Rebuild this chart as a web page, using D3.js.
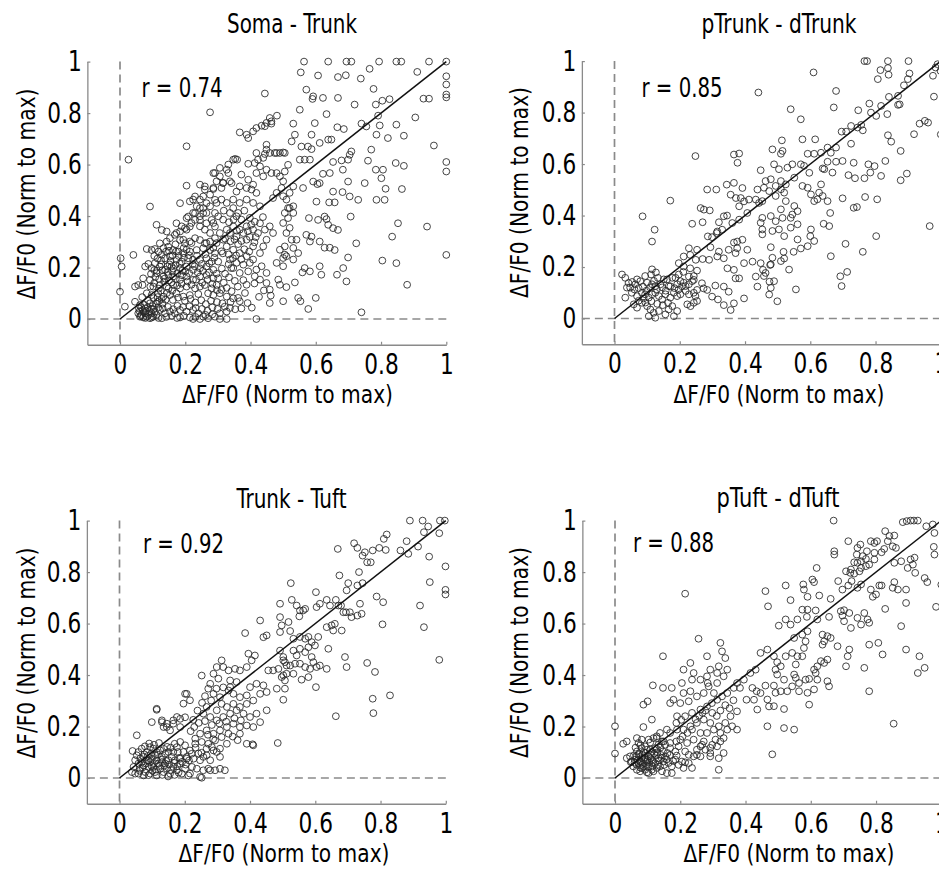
<!DOCTYPE html>
<html><head><meta charset="utf-8">
<script src="https://cdn.jsdelivr.net/npm/d3@7"></script>
<style>
html,body{margin:0;padding:0;background:#fff;overflow:hidden}
svg{display:block}
text{font-family:"Liberation Sans Narrow","Arial Narrow","DejaVu Sans Condensed",sans-serif;fill:#000}
</style></head><body>
<svg id="chart" width="939" height="874"></svg>
<script>
const panelTitles = ["Soma - Trunk", "pTrunk - dTrunk", "Trunk - Tuft", "pTuft - dTuft"];
const rValues = [0.74, 0.85, 0.92, 0.88];
const axisTicks = [0, 0.2, 0.4, 0.6, 0.8, 1];
const axisLabel = "ΔF/F0 (Norm to max)";

// [x, y] pairs, normalised ΔF/F0 of the two compartments
const somaTrunk = [
[.564,1],[.638,1],[.694,1],[.709,1],[.794,1],[.847,1],[.862,1],[.947,1],[1,1],
[.554,.958],[.607,.946],[.668,.940],[.692,.947],[.738,.934],[.765,.972],[.911,.960],[1,.943],
[1,.911],[.571,.891],[.777,.894],[.592,.865],[.590,.855],[.622,.859],[.668,.859],[1,.872],[1,.861],[.930,.856],[.947,.856],[.826,.854],[.804,.848],[.719,.833],[.784,.833],
[.551,.813],[.633,.796],[.481,.790],[.464,.759],[.597,.761],[.531,.759],[.666,.745],[.686,.738],[.740,.759],[.755,.748],[.791,.790],[.796,.752],[.847,.755],[.905,.783],
[.536,.716],[.587,.716],[.786,.716],[.821,.703],[.870,.712],[.638,.697],[.648,.697],[.556,.670],[.576,.670],[.526,.690],[.612,.684],[.587,.660],[.709,.651],[.704,.638],[.770,.658],[.962,.674],[.480,.645],[.500,.647],
[.653,.610],[.679,.616],[.699,.619],[.760,.615],[.845,.606],[.870,.595],[1,.610],[1,.573],[.784,.580],[.806,.580],[.551,.619],[.566,.619],[.582,.619],[.515,.599],[.643,.567],[.683,.580],[.622,.564],[.505,.573],
[.699,.534],[.750,.528],[.801,.547],[.814,.506],[.864,.505],[.653,.495],[.682,.493],[.704,.476],[.730,.463],[.786,.463],[.811,.463],[.602,.456],[.641,.453],[.658,.453],[.561,.509],[.531,.515],[.612,.528],[.592,.534],[.605,.524],
[.515,.431],[.579,.392],[.607,.385],[.627,.398],[.633,.388],[.638,.366],[.653,.353],[.668,.346],[.707,.398],[.852,.372],[.941,.359],[.834,.320],[.724,.294],[.699,.239],[.804,.227],[.847,.217],[1,.249],[.571,.327],[.587,.320],[.612,.301],[.627,.277],[.643,.277],[.658,.268],[.582,.301],
[.566,.198],[.559,.181],[.582,.185],[.612,.205],[.617,.172],[.665,.172],[.694,.146],[.684,.198],[.510,.124],[.536,.142],[.546,.082],[.553,.069],[.600,.082],[.577,.039],[.740,.026],[.880,.133],
[.444,.876],[.276,.803],[.204,.671],[.026,.619],
[.459,.781],[.464,.768],[.449,.762],[.444,.749],[.434,.751],[.418,.742],[.408,.729],[.388,.716],[.367,.725],[.393,.703],
[.449,.677],[.449,.658],[.444,.641],[.459,.645],[.474,.645],[.490,.645],[.505,.645],
[.418,.645],[.439,.626],[.423,.619],[.413,.606],[.393,.603],[.429,.593],[.449,.580],[.464,.567],[.439,.554],[.418,.567],
[.347,.619],[.359,.619],[.353,.622],
[.327,.580],[.332,.567],[.337,.535],[.306,.554],[.316,.529],[.291,.567],[.286,.509],[.311,.509],
[.372,.561],[.393,.541],[.408,.522],[.388,.509],[.367,.515],[.403,.503],[.418,.490],
[.480,.567],[.500,.535],[.490,.554],[.495,.509],[.480,.490],[.500,.477],[.469,.470],[.510,.464],[.520,.490],
[.531,.438],[.520,.431],[.505,.412],[.515,.392],[.531,.412],[.520,.354],[.500,.373],[.510,.334],[.526,.308],[.505,.282],[.490,.269],[.500,.237],[.480,.218],[.500,.205],[.505,.250],[.510,.244],[.531,.231],[.541,.308],[.546,.256],[.531,.276],
[.347,.464],[.367,.451],[.388,.464],[.408,.451],[.429,.438],[.347,.431],[.327,.451],[.311,.464],[.296,.451],[.337,.412],[.357,.399],[.372,.386],[.388,.360],[.408,.347],[.423,.334],[.444,.347],[.459,.360],[.469,.334],[.449,.308],[.439,.282],[.429,.256],[.408,.282],[.388,.308],[.378,.334],[.367,.347],[.347,.360],[.337,.334],[.357,.321],[.327,.347],[.316,.386],[.301,.399],[.291,.412],[.286,.373],[.306,.334],[.316,.308],[.296,.295],[.327,.282],[.347,.269],[.367,.256],[.388,.244],[.408,.231],[.434,.205],[.418,.192],[.398,.218],[.378,.211],[.357,.218],[.337,.231],[.347,.198],[.367,.179],[.393,.185],[.413,.166],[.449,.179],[.449,.140],[.429,.153],[.459,.114],
[.459,.062],[.500,.069],[.418,0],[.388,.133],[.383,.101],[.362,.082],[.367,.069],[.337,.043],[.327,0],[.306,0],[.245,0],[.224,0],[.214,.006],[.184,.006],[.485,.153],[.490,.133],
[.002,.236],[.005,.204],[0,.106],[.041,.249],[.092,.437],[.015,.048],[.046,.126],[.069,.132],[.056,.132],
[.082,.272],[.097,.268],[.107,.272],
[.112,.366],[.128,.346],[.143,.340],[.173,.372],[.184,.340],[.199,.353],[.214,.359],[.230,.385],[.245,.385],[.230,.411],[.265,.372],[.281,.385],[.291,.359],[.209,.398],[.153,.314],[.168,.327],[.143,.301],[.122,.294],
[.184,.307],[.199,.294],[.214,.301],[.230,.314],[.245,.307],[.260,.294],[.276,.301],[.291,.314],
[.133,.275],[.148,.281],[.163,.268],[.179,.262],[.194,.256],[.214,.262],[.235,.268],[.255,.275],[.276,.268],[.291,.256],
[.128,.249],[.138,.236],[.153,.243],[.173,.230],[.189,.223],[.209,.236],[.224,.230],[.245,.230],[.265,.236],[.281,.223],
[.077,.204],[.087,.214],[.107,.217],
[.122,.204],[.138,.191],[.158,.204],[.184,.197],[.204,.204],[.224,.191],[.245,.197],[.265,.204],[.286,.191],
[.112,.178],[.133,.165],[.148,.171],[.163,.165],[.184,.152],[.204,.165],[.224,.152],[.245,.165],[.265,.171],[.286,.158],
[.071,.158],[.092,.152],
[.102,.126],[.122,.132],[.143,.126],[.163,.132],[.184,.119],[.204,.126],[.230,.119],[.245,.126],[.260,.132],[.281,.119],[.296,.132],
[.082,.100],[.097,.093],[.117,.100],[.133,.087],[.153,.093],[.173,.100],[.194,.087],[.214,.093],[.240,.097],[.270,.100],[.286,.093],[.306,.100],[.327,.087],[.347,.080],
[.046,.067],[.061,.054],[.077,.041],[.092,.061],
[.056,.022],[.066,.016],[.077,.022],[.087,.016],[.097,.022],[.061,.009],[.071,.006],[.082,.009],[.092,.003],[.102,.009],[.112,.016],[.107,.029],[.122,.035],[.138,.022],[.153,.029],[.168,.022],
[.128,.003],[.184,.035],[.204,.029],[.224,.035],[.240,.022],[.255,.009],[.270,.003],[.291,.009],[.306,.022],[.327,.029],
[.204,.518],[.260,.515],[.286,.505],[.316,.528],[.342,.528],[.357,.495],
[.184,.450],[.214,.457],[.230,.476],[.255,.476],[.265,.450],[.291,.463],[.245,.431],[.255,.411],
[.245,.522],[.260,.503],[.276,.483],[.245,.464],[.224,.464],[.235,.438],[.255,.431],[.276,.438],[.265,.412],[.245,.399],[.224,.412],[.204,.392],[.219,.373],[.245,.360],[.260,.347],[.276,.334],[.204,.347],[.189,.360],[.173,.334],[.194,.308],[.219,.295],[.265,.295],[.286,.276],[.204,.269],
[.286,.567],[.306,.587],[.296,.535],[.332,.600],
[.060,.030],[.070,.035],[.080,.030],[.065,.045],[.085,.045],[.095,.040],[.075,.055],[.100,.050],[.110,.060],[.120,.070],[.130,.060],[.140,.075],[.115,.085],[.125,.110],[.135,.145],[.150,.150],[.160,.185],[.170,.210],[.155,.225],[.145,.205],[.130,.190],[.120,.155],[.105,.140],[.095,.175],[.160,.110],[.175,.130],[.190,.170],[.200,.185],[.180,.245],[.195,.275],[.170,.290],[.150,.265],[.115,.235],[.105,.190],
[.105,.245],[.118,.262],[.126,.228],[.141,.262],[.152,.212],[.161,.247],[.172,.262],[.183,.215],[.196,.238],[.211,.248],[.223,.213],[.236,.246],[.251,.214],[.262,.252],[.274,.216],[.289,.238],[.301,.223],[.315,.255],
[.097,.198],[.113,.188],[.127,.212],[.146,.183],[.163,.196],[.176,.178],[.191,.188],[.212,.178],[.229,.205],[.238,.181],[.254,.187],[.273,.181],[.296,.176],[.312,.196],
[.093,.126],[.108,.163],[.119,.118],[.137,.157],[.149,.119],[.158,.142],[.171,.156],[.189,.137],[.207,.146],[.219,.133],[.233,.153],[.252,.141],[.268,.152],[.283,.137],[.301,.158],[.318,.141],
[.068,.085],[.086,.072],[.103,.081],[.115,.067],[.128,.078],[.144,.101],[.162,.074],[.178,.083],[.199,.071],[.216,.078],[.231,.064],[.249,.073],[.263,.058],[.279,.071],[.297,.066],[.314,.061],
[.058,.041],[.073,.027],[.091,.031],[.103,.038],[.117,.044],[.131,.041],[.147,.047],[.163,.038],[.176,.051],[.193,.046],[.213,.049],[.232,.043],[.251,.039],[.268,.032],[.283,.045],[.299,.039],
[.063,.012],[.078,.004],[.097,.006],[.118,.004],[.142,.008],[.159,.012],[.175,.004],[.196,.012],[.231,.008],[.262,.016],[.283,.018],
[.322,.176],[.334,.162],[.352,.148],[.341,.198],[.333,.213],[.356,.247],[.372,.232],[.381,.271],[.396,.262],[.412,.298],[.398,.319],[.416,.318],[.429,.372],[.438,.396],[.362,.412],[.381,.421],[.398,.393],[.413,.378],[.318,.421],[.334,.376],[.348,.386],[.322,.312],[.311,.263],[.333,.251],[.346,.236],[.362,.291],[.372,.303],[.392,.341],[.402,.366],[.358,.343],[.339,.302],[.351,.309],
[.321,.048],[.339,.066],[.353,.038],[.372,.041],[.391,.062],[.404,.044],[.426,.086],[.441,.111],[.462,.091],[.412,.138],[.378,.151],[.361,.126],[.342,.108],[.327,.121],[.311,.113],[.297,.112]
];

const pTrunkDTrunk = [
[.766,1],[.774,1],[.838,1],[.901,1],[.610,.956],[.815,.965],[.838,.973],[.840,.947],[.807,.930],[.904,.952],[.899,.930],[.984,.975],[.976,.943],[.679,.884],[.540,.813],[.672,.820],[.887,.906],[.841,.861],[.869,.865],[.869,.830],[.874,.832],[.781,.835],[.817,.826],[.571,.774],[.747,.809],[.786,.800],[.802,.787],[.836,.794],[.979,.862],[.696,.726],[.710,.726],[.725,.748],[.745,.742],[.756,.752],[.761,.731],[.935,.757],[.951,.768],[.961,.761],[.918,.716],[.838,.712],[.848,.687],[.877,.651],[.725,.679],[.513,.692],[.576,.696],[.615,.696],[.484,.657],[.510,.640],[.515,.651],[.592,.640],[.612,.640],[.633,.644],[.653,.664],[.663,.644],[.679,.664],
[.448,.576],[.489,.599],[.504,.580],[.530,.586],[.545,.599],[.571,.599],[.581,.593],[.597,.566],[.638,.583],[.643,.580],[.653,.609],[.679,.609],[.699,.612],[.733,.605],[.778,.599],[.797,.592],[.830,.612],[.784,.567],[.817,.554],[.766,.545],[.737,.545],[.717,.557],[.668,.567],[.877,.537],[.896,.563],
[.551,.547],[.510,.534],[.494,.515],[.479,.541],[.463,.534],[.458,.508],[.474,.495],[.520,.489],[.525,.521],[.510,.502],
[.453,.456],[.494,.476],[.525,.456],[.576,.515],[.592,.508],[.602,.482],[.612,.456],[.622,.463],[.638,.476],[.627,.489],[.633,.521],[.653,.456],
[.699,.467],[.733,.430],[.743,.433],[.768,.472],[.805,.463],
[.551,.437],[.561,.417],[.510,.424],[.515,.391],[.545,.404],[.540,.391],[.479,.398],[.494,.378],[.453,.391],[.448,.372],
[.661,.410],[.966,.359],[.641,.368],[.658,.359],
[.484,.340],[.504,.346],[.520,.320],[.540,.353],[.561,.366],[.602,.346],[.600,.320],[.453,.346],[.453,.327],
[.561,.307],[.592,.281],[.612,.301],[.571,.272],[.549,.259],[.518,.259],[.479,.277],[.520,.233],[.484,.236],[.479,.210],[.510,.223],
[.802,.320],[.708,.290],[.761,.259],[.663,.242],[.535,.190],[.713,.181],[.692,.164],[.696,.126],
[.463,.177],[.458,.165],[.489,.145],[.479,.119],[.474,.093],[.499,.067],[.556,.113],
[.086,.397],[.123,.345],[.115,.299],[.171,.458],[.248,.631],[.441,.878],
[.366,.637],[.382,.641],[.377,.605],[.344,.520],[.366,.527],[.284,.501],[.312,.501],
[.356,.481],[.372,.468],[.387,.468],[.382,.436],[.397,.455],[.392,.507],
[.264,.429],[.274,.423],[.292,.420],[.238,.368],[.270,.374],
[.335,.397],[.345,.400],[.320,.374],[.315,.338],[.330,.345],[.361,.371],[.382,.384],[.407,.410],[.433,.462],[.438,.501],[.412,.462],[.443,.449],
[.286,.319],[.299,.316],[.313,.332],[.294,.277],[.320,.260],[.350,.267],[.371,.254],[.376,.273],[.366,.295],[.376,.299],[.392,.306],[.407,.267],[.423,.221],[.397,.215],[.366,.189],[.346,.195],[.335,.234],[.315,.241],[.290,.228],[.270,.231],[.249,.228],
[.228,.273],[.253,.267],[.232,.247],[.212,.241],[.197,.215],[.212,.202],[.232,.195],[.253,.186],[.228,.163],[.243,.150],[.268,.137],[.273,.117],[.253,.111],[.284,.111],[.309,.128],[.335,.124],[.350,.104],[.371,.156],[.382,.156],[.397,.078],[.366,.059],[.356,.033],[.335,.052],[.317,.074],[.299,.085],
[.438,.124],[.433,.163],[.455,.189],[.477,.208],[.448,.215],[.475,.143],
[.023,.171],[.033,.158],[.038,.120],[.048,.120],[.064,.133],[.069,.152],[.079,.145],[.094,.165],[.100,.139],[.115,.191],[.115,.133],[.125,.126],[.130,.113],[.141,.133],[.151,.152],[.161,.152],[.166,.126],[.177,.158],[.187,.158],[.192,.133],[.202,.145],[.212,.139],[.218,.126],[.228,.133],[.238,.145],[.243,.165],
[.033,.081],[.053,.100],[.069,.087],[.084,.100],[.094,.094],[.105,.081],[.115,.094],[.125,.100],[.136,.087],[.146,.074],[.156,.094],[.171,.081],[.182,.100],[.192,.087],[.202,.094],[.218,.107],[.228,.094],[.243,.100],[.248,.087],
[.059,.055],[.069,.042],[.084,.061],[.100,.048],[.110,.035],[.120,.022],[.105,.009],[.125,.003],[.136,.029],[.156,.016],[.166,.035],[.177,.048],[.182,.009],[.192,.029],[.223,.055],[.233,.048],[.243,.061],[.253,.068],
[.043,.138],[.054,.142],[.061,.113],[.074,.118],[.087,.124],[.098,.108],[.109,.121],[.121,.146],[.133,.158],[.146,.121],[.157,.108],[.171,.125],[.184,.118],[.196,.112],[.207,.125],[.074,.069],[.089,.078],[.095,.062],[.113,.067],[.131,.057],[.148,.052],[.164,.061],[.112,.171],[.127,.179],[.197,.171],[.211,.181],
[.990,.988],[.999,.962],[1,.715]
];

const trunkTuft = [
[.890,1],[.929,1],[.946,.977],[.933,.955],[.982,1],[.997,1],[.980,.951],
[.819,.946],[.810,.929],[.796,.894],[.816,.886],[.776,.884],[.752,.877],[.745,.864],[.759,.838],[.770,.838],[.719,.912],[.729,.894],[.880,.920],[.861,.884],[.885,.871],[.915,.899],[.949,.860],[.999,.822],
[.669,.890],[.734,.800],[.674,.787],[.701,.757],[.696,.729],[.729,.748],[.745,.757],
[.525,.757],[.602,.722],[.951,.761],[.999,.731],[.999,.713],
[.492,.677],[.528,.692],[.543,.670],[.553,.651],[.551,.628],[.563,.651],[.569,.657],[.604,.664],[.614,.677],[.635,.692],[.645,.670],[.663,.692],[.671,.670],[.679,.670],[.686,.644],[.694,.644],[.706,.644],[.711,.625],[.729,.631],[.742,.638],[.737,.677],[.788,.705],[.808,.683],
[.921,.670],[.933,.586],[.806,.597],[.980,.459],
[.492,.625],[.497,.593],[.518,.606],[.492,.567],[.523,.571],[.533,.541],[.553,.548],[.569,.541],[.579,.548],[.589,.528],[.599,.515],[.609,.548],[.635,.586],[.650,.593],[.660,.599],[.655,.573],[.681,.573],
[.492,.495],[.502,.470],[.507,.450],[.523,.437],[.533,.495],[.543,.476],[.553,.502],[.569,.489],[.579,.508],[.589,.470],[.594,.450],[.604,.431],[.584,.424],[.569,.431],[.553,.444],[.538,.444],[.614,.437],[.635,.424],[.640,.502],[.691,.470],[.696,.431],[.759,.447],[.783,.412],
[.502,.399],[.533,.405],[.558,.382],[.579,.392],[.602,.353],
[.502,.304],[.663,.240],[.776,.308],[.778,.252],[.829,.321],
[.252,.398],[.201,.327],[.206,.327],[.114,.269],[.130,.217],[.145,.198],[.165,.211],[.186,.230],[.201,.236],
[.385,.563],[.431,.612],[.441,.547],[.451,.554],
[.456,.418],[.471,.418],[.487,.424],[.502,.457],[.512,.437],[.512,.405],[.497,.392],[.507,.379],[.507,.347],[.482,.347],
[.298,.431],[.318,.431],[.334,.418],[.354,.424],[.369,.418],[.390,.431],[.405,.457],[.415,.476],[.395,.483],[.339,.379],[.359,.373],[.339,.353],[.313,.457],[.288,.405],[.303,.386],[.278,.366],[.272,.347],[.288,.327],[.308,.314],[.334,.340],[.349,.327],[.369,.314],[.390,.321],[.400,.353],[.420,.366],[.441,.360],[.451,.334],[.431,.327],[.410,.301],[.390,.288],[.369,.276],[.349,.288],[.329,.276],[.313,.288],[.298,.263],[.267,.276],[.257,.250],[.278,.237],[.298,.224],[.318,.237],[.339,.250],[.359,.263],[.380,.250],[.400,.237],[.420,.250],[.451,.263],[.431,.217],[.410,.198],[.390,.204],[.369,.198],[.349,.211],[.329,.198],[.308,.185],[.288,.172],[.267,.185],[.247,.172],[.232,.153],[.252,.140],[.272,.133],[.293,.146],[.313,.159],[.334,.172],[.369,.172],[.390,.133],[.410,.127],[.329,.133],[.308,.114],[.288,.107],[.267,.088],[.247,.069],[.237,.036],[.257,.030],[.272,.036],[.293,.030],[.308,.036],[.323,.030],[.252,.001],[.216,.017],[.201,.036],[.186,.075],[.206,.075],[.221,.094],
[.408,.131],[.485,.136],
[.053,.166],[.114,.265],[.099,.217],[.130,.224],
[.053,.088],[.058,.101],[.068,.114],[.074,.082],[.084,.101],[.094,.120],[.104,.114],[.114,.101],[.125,.107],[.130,.082],[.140,.095],[.150,.101],[.160,.082],[.165,.101],
[.048,.069],[.058,.056],[.063,.036],[.074,.049],[.079,.023],[.089,.043],[.094,.062],[.104,.043],[.109,.023],[.119,.056],[.125,.036],[.135,.023],[.140,.056],[.145,.036],[.155,.017],[.165,.043],[.176,.030],[.186,.056],[.191,.017],[.211,.010],[.222,.043],[.247,.004],[.278,.030],
[.068,.062],[.084,.069],[.099,.075],[.114,.069],[.130,.062],[.150,.069],[.170,.069],[.094,.017],[.114,.010],[.074,.010],[.058,.017],[.043,.043],[.038,.023],[.048,.017],[.040,.105],
[.176,.120],[.186,.140],[.201,.127],[.216,.107],[.232,.133],[.196,.101],[.206,.082],[.227,.075],[.242,.095],[.257,.082],[.267,.114],[.283,.120],[.298,.101],[.278,.069],[.308,.082],
[.155,.185],[.145,.211],[.135,.198],[.165,.224],[.186,.198],[.196,.289],[.216,.302],[.176,.237],
[.062,.028],[.071,.041],[.081,.056],[.089,.068],[.098,.047],[.106,.058],[.112,.033],[.121,.047],[.128,.071],[.137,.048],[.143,.066],[.152,.052],[.158,.031],[.167,.059],[.177,.046],[.183,.078],[.192,.063],[.203,.052],[.213,.068],[.064,.076],[.076,.092],[.087,.086],[.097,.094],[.109,.088],[.118,.091],[.136,.113],[.146,.121],[.157,.118],[.169,.133],[.179,.101],[.078,.123],[.091,.134],[.106,.129],[.121,.136],[.089,.011],[.101,.028],[.131,.012],[.149,.006],[.169,.012],[.181,.021],
[.218,.182],[.229,.198],[.243,.214],[.226,.226],[.239,.262],[.253,.292],[.262,.318],[.281,.301],[.297,.347],[.318,.352],[.262,.221],[.283,.206],[.306,.212],[.327,.219],[.352,.232],[.372,.224],[.347,.161],[.362,.147],[.233,.118],[.251,.098],[.271,.168],[.287,.151]
];

const pTuftDTuft = [
[.670,1],[.882,.994],[.894,.998],[.906,1],[.916,1],[.928,1],[.954,.978],[.974,.985],[.979,.952],
[.828,.959],[.841,.940],[.856,.942],[.836,.920],[.851,.900],[.861,.894],[.817,.877],[.825,.890],[.803,.920],[.784,.920],[.795,.913],
[.715,.920],[.672,.881],[.672,.868],[.752,.907],[.743,.894],[.741,.868],[.759,.862],[.769,.851],[.754,.842],[.743,.836],[.733,.838],[.723,.810],[.708,.803],[.721,.797],[.733,.794],[.749,.803],[.754,.816],[.769,.823],[.779,.829],[.795,.849],[.795,.875],[.772,.881],
[.877,.842],[.856,.836],[.906,.849],[.918,.856],[.913,.829],[.897,.816],[.920,.797],[.949,.777],[.957,.761],[.977,.898],[.979,.868],[1,.751],
[.618,.816],[.605,.771],[.610,.761],[.577,.752],[.579,.732],[.523,.748],[.461,.726],[.469,.667],[.538,.691],[.590,.704],[.626,.709],[.661,.696],[.684,.765],[.697,.732],[.715,.748],[.725,.765],[.743,.739],[.754,.752],[.784,.732],[.790,.704],[.800,.713],[.810,.748],[.817,.748],[.851,.739],[.856,.761],[.867,.732],[.892,.732],[.892,.680],[.828,.657],[.984,.665],
[.502,.592],[.523,.616],[.538,.596],[.559,.616],[.574,.654],[.590,.654],[.588,.626],[.615,.651],[.620,.616],[.656,.626],[.692,.648],[.702,.652],[.697,.631],[.723,.583],[.743,.622],[.754,.596],[.764,.641],[.774,.616],[.779,.603],[.702,.609],[.718,.641],
[.446,.486],[.467,.499],[.487,.473],[.497,.450],[.508,.434],[.492,.421],[.497,.402],[.523,.473],[.543,.486],[.559,.473],[.554,.441],[.574,.473],[.579,.505],[.584,.531],[.549,.544],[.574,.557],[.590,.570],[.636,.557],[.651,.551],[.641,.531],[.636,.518],[.661,.544],[.631,.454],[.641,.447],[.620,.434],[.610,.421],[.615,.408],[.651,.460],[.682,.512],[.718,.499],[.713,.473],[.708,.434],[.764,.428],[.779,.518],[.807,.525],[.820,.480],[.877,.590],[.892,.499],[.933,.473],[.949,.428],[.928,.408],[.854,.211],[.779,.337],
[.549,.402],[.554,.389],[.564,.369],[.584,.382],[.595,.385],[.620,.382],[.651,.376],[.656,.356],[.610,.344],[.590,.331],[.564,.337],[.543,.356],[.528,.337],[.518,.382],[.508,.337],[.487,.359],[.461,.359],[.467,.305],[.487,.279],[.518,.268],[.492,.331],[.595,.285],[.467,.201],[.549,.188],[.482,.092],
[.215,.716],[.147,.473],[.256,.541],[.210,.421],[.116,.360],[.147,.350],[.087,.285],[.100,.298],[.113,.227],[.087,.198],[0,.201],[0,.095],[.025,.133],[.036,.142],
[.231,.447],[.174,.350],[.205,.369],[.241,.408],[.236,.382],[.262,.382],[.282,.395],[.292,.421],[.318,.434],[.313,.408],[.333,.395],[.344,.421],[.323,.525],[.328,.492],[.338,.466],[.282,.473],[.284,.369],[.313,.369],[.287,.356],[.303,.330],[.272,.330],[.251,.317],[.231,.337],[.210,.330],[.200,.291],[.226,.298],[.179,.304],[.169,.291],[.190,.240],[.215,.240],[.236,.253],[.262,.266],[.282,.278],[.297,.291],[.313,.304],[.328,.317],[.344,.330],[.364,.350],[.374,.369],[.383,.350],[.395,.382],[.415,.408],[.431,.421],[.403,.304],[.426,.304],[.434,.337],[.446,.330],[.421,.350],[.436,.266],[.472,.278],
[.374,.259],[.354,.240],[.338,.214],[.318,.201],[.292,.214],[.272,.227],[.251,.214],[.231,.201],[.210,.188],[.190,.188],[.169,.175],[.159,.188],[.138,.175],[.128,.155],[.149,.142],[.169,.136],[.200,.149],[.221,.136],[.241,.149],[.262,.175],[.282,.175],[.303,.188],[.323,.175],[.333,.155],[.313,.123],[.292,.117],[.272,.142],[.251,.110],[.262,.084],[.292,.084],[.318,.032],[.344,.188],[.359,.201],[.374,.188],[.518,.194],
[.036,.077],[.046,.084],[.051,.064],[.061,.071],[.072,.090],[.072,.058],[.082,.077],[.087,.045],[.097,.064],[.103,.084],[.113,.071],[.123,.058],[.133,.077],[.138,.045],[.149,.064],[.154,.084],[.164,.058],[.174,.045],[.185,.071],[.195,.051],[.205,.064],
[.056,.045],[.067,.032],[.077,.026],[.092,.032],[.103,.019],[.118,.026],[.128,.039],[.144,.026],[.067,.103],[.082,.116],[.092,.123],[.108,.110],[.123,.116],[.133,.129],[.072,.136],[.067,.155],[.082,.149],[.103,.149],[.118,.155],[.128,.162],[.144,.142],[.154,.129],[.169,.116],[.185,.103],[.195,.123],[.215,.103],[.226,.090],[.241,.084],[.251,.090],[.262,.123],[.267,.129],[.277,.110],[.292,.097],[.298,.129],[.308,.149],[.323,.142],[.318,.077],[.333,.097],[.215,.061],[.226,.058],[.210,.039],[.236,.039],[.174,.019],[.159,.019],
[.060,.060],[.070,.070],[.080,.060],[.090,.080],[.100,.070],[.110,.090],[.065,.085],[.075,.095],[.085,.055],[.095,.050],[.105,.060],[.115,.045],[.120,.095],[.130,.100],[.140,.090],[.078,.040],[.088,.100],[.098,.110],
[.048,.062],[.058,.088],[.066,.052],[.076,.066],[.084,.089],[.093,.071],[.101,.044],[.109,.076],[.117,.062],[.126,.087],[.134,.068],[.143,.078],[.151,.051],[.158,.072],[.168,.089],[.178,.066],[.189,.087],[.063,.118],[.078,.128],[.093,.097],[.113,.102],[.128,.113],[.147,.103],[.161,.097],[.108,.138],[.139,.118],[.083,.038],[.098,.022],[.113,.032],[.131,.051],
[.188,.142],[.207,.161],[.222,.175],[.236,.188],[.247,.228],[.258,.242],[.268,.253],[.277,.262],[.298,.253],[.312,.241],[.323,.262],[.338,.283],[.351,.271],[.363,.302],[.188,.214],[.203,.226]
];

const panelData = [somaTrunk, pTrunkDTrunk, trunkTuft, pTuftDTuft];

// Panel placement: pixel position of data (0,0) plus label anchors
const UX = 326.3, UY = 257.4;
const panels = [
  {ox: 120,   oy: 319,   title: [292, 33, 130],    r: [141.5, 96.5], ylab: [35, 194],    xlab: [287.5, 403]},
  {ox: 614.5, oy: 318.5, title: [779, 33, 155],    r: [641.5, 96.5], ylab: [528, 192.5], xlab: [779, 403]},
  {ox: 119.5, oy: 778,   title: [291.5, 508, 110], r: [143, 553],    ylab: [35, 653],    xlab: [284, 862]},
  {ox: 615,   oy: 778,   title: [778, 507, 123],   r: [633, 552],    ylab: [528, 652.5], xlab: [789, 862]}
];

const axisGrey = "#8a8a8a";
const tickScaleX = 0.86;
const svg = d3.select("#chart");

panels.forEach((p, i) => {
  const x = d3.scaleLinear().domain([-0.1, 1]).range([p.ox - 0.1 * UX, p.ox + UX]);
  const y = d3.scaleLinear().domain([-0.1, 1]).range([p.oy + 0.1 * UY, p.oy - UY]);
  const g = svg.append("g").attr("class", "panel");

  const fmt = d3.format("~g");
  const xAxis = d3.axisBottom(x).tickValues(axisTicks).tickFormat(fmt)
    .tickSize(-3).tickSizeOuter(0).tickPadding(9);
  const yAxis = d3.axisLeft(y).tickValues(axisTicks).tickFormat(fmt)
    .tickSize(-3).tickSizeOuter(0).tickPadding(6.5);

  const gx = g.append("g").attr("transform", `translate(0,${y(-0.1)})`).call(xAxis);
  const gy = g.append("g").attr("transform", `translate(${x(-0.1)},0)`).call(yAxis);
  [gx, gy].forEach(a => {
    a.attr("font-family", null);
    a.select(".domain").attr("stroke", axisGrey).attr("stroke-width", 1.3);
    a.selectAll(".tick line").attr("stroke", axisGrey).attr("stroke-width", 1.2);
    a.selectAll(".tick text").attr("font-size", 28).attr("fill", "#000")
      .attr("transform", `scale(${tickScaleX},1)`);
  });

  // zero reference lines
  g.append("line")
    .attr("x1", x(0)).attr("x2", x(0)).attr("y1", y(1)).attr("y2", y(-0.1))
    .attr("stroke", axisGrey).attr("stroke-width", 1.7).attr("stroke-dasharray", "8,5");
  g.append("line")
    .attr("x1", x(-0.1)).attr("x2", x(1)).attr("y1", y(0)).attr("y2", y(0))
    .attr("stroke", axisGrey).attr("stroke-width", 1.7).attr("stroke-dasharray", "8,5");

  // scatter points
  g.append("g").selectAll("circle").data(panelData[i]).join("circle")
    .attr("cx", d => x(d[0])).attr("cy", d => y(d[1])).attr("r", 3.4)
    .attr("fill", "none").attr("stroke", "#262626").attr("stroke-width", 1)
    .attr("stroke-opacity", 0.85);

  // unity line
  g.append("line")
    .attr("x1", x(0)).attr("y1", y(0)).attr("x2", x(1)).attr("y2", y(1))
    .attr("stroke", "#111").attr("stroke-width", 1.5);

  // labels
  g.append("text").attr("x", p.title[0]).attr("y", p.title[1])
    .attr("text-anchor", "middle").attr("font-size", 27)
    .attr("textLength", p.title[2]).attr("lengthAdjust", "spacingAndGlyphs")
    .text(panelTitles[i]);
  g.append("text").attr("x", p.r[0]).attr("y", p.r[1])
    .attr("font-size", 26).attr("textLength", 81).attr("lengthAdjust", "spacingAndGlyphs")
    .text(`r = ${rValues[i].toFixed(2)}`);
  g.append("text").attr("x", p.xlab[0]).attr("y", p.xlab[1])
    .attr("text-anchor", "middle").attr("font-size", 25)
    .attr("textLength", 211).attr("lengthAdjust", "spacingAndGlyphs")
    .text(axisLabel);
  g.append("text")
    .attr("transform", `translate(${p.ylab[0]},${p.ylab[1]}) rotate(-90)`)
    .attr("text-anchor", "middle").attr("font-size", 25)
    .attr("textLength", 211).attr("lengthAdjust", "spacingAndGlyphs")
    .text(axisLabel);
});
</script>
</body></html>
